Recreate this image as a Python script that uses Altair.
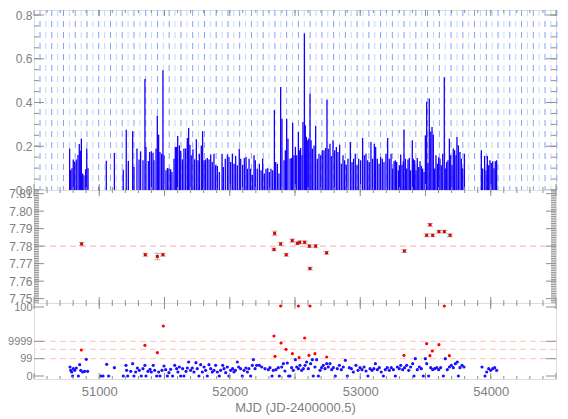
import altair as alt
import pandas as pd

# ---------------- data ----------------
# top panel: power spikes
top_mjd = [50773, 50781, 50791, 50801, 50812, 50824, 50837, 50847, 50855, 50863, 50873, 50883, 50896, 50904, 50914,
           50998, 51054, 51116, 51184, 51207, 51223, 51256, 51266, 51289, 51305, 51317, 51335, 51350, 51358, 51376,
           51386, 51399, 51412, 51419, 51435, 51445, 51455, 51465, 51478, 51488, 51496, 51511, 51522, 51534, 51547,
           51557, 51573, 51583, 51593, 51601, 51614, 51624, 51637, 51649, 51662, 51675, 51685, 51695, 51705, 51718,
           51731, 51744, 51757, 51767, 51782, 51792, 51803, 51815, 51828, 51841, 51854, 51866,
           51879, 51892, 51905, 51920, 51941, 51951, 51966, 51982, 51994, 52007, 52020, 52033, 52045, 52058, 52073,
           52084, 52099, 52112, 52125, 52135, 52148, 52160, 52173, 52186, 52196, 52211, 52227, 52240, 52252, 52265,
           52278, 52291, 52303, 52316, 52329, 52342, 52352, 52365, 52377, 52390, 52400, 52416, 52426, 52436, 52446,
           52462, 52472, 52482, 52492, 52503, 52513, 52526, 52533, 52543, 52554, 52561, 52572, 52579, 52587, 52594,
           52605, 52615, 52623, 52633, 52646, 52658, 52671, 52684, 52697, 52709, 52722, 52735, 52745, 52755, 52768,
           52778, 52791, 52804, 52817, 52829, 52842, 52855, 52868, 52880, 52893, 52906, 52924, 52937, 52949, 52962,
           52975, 52988, 53003, 53018, 53031, 53044, 53057, 53069, 53082, 53095, 53108, 53118, 53131, 53144, 53156,
           53169, 53182, 53197, 53210, 53223,
           53236, 53248, 53259, 53269, 53279, 53292, 53300, 53310, 53320, 53330, 53335, 53346, 53356, 53366, 53376,
           53386, 53399, 53407, 53417, 53427, 53437, 53448, 53458, 53468, 53478, 53489, 53499, 53509, 53519, 53529,
           53540, 53550, 53560, 53570, 53580, 53591, 53601, 53611, 53621, 53632, 53644, 53655, 53662, 53672, 53683,
           53693, 53703, 53713, 53723, 53734, 53741, 53752, 53764, 53775, 53785, 53798,
           53928, 53938, 53953, 53964, 53974, 53984, 53994, 54004, 54015, 54025, 54035, 54045]
top_pow = [0.19, 0.09, 0.10, 0.14, 0.13, 0.14, 0.16, 0.21, 0.18, 0.235, 0.075, 0.067, 0.095, 0.19, 0.10,
           0.01, 0.134, 0.17, 0.093, 0.276, 0.133, 0.269, 0.105, 0.19, 0.14, 0.177, 0.136, 0.507, 0.197, 0.133,
           0.174, 0.177, 0.17, 0.136, 0.19, 0.339, 0.253, 0.174, 0.166, 0.548, 0.159, 0.09, 0.10, 0.098, 0.095,
           0.082, 0.143, 0.197, 0.197, 0.247, 0.204, 0.18, 0.14, 0.19, 0.19, 0.238, 0.284, 0.207, 0.159, 0.186,
           0.14, 0.232, 0.136, 0.166, 0.204, 0.269, 0.136, 0.14, 0.146, 0.14, 0.162, 0.128,
           0.166, 0.113, 0.11, 0.082, 0.165, 0.105, 0.143, 0.162, 0.151, 0.128, 0.166, 0.12, 0.156, 0.113, 0.189,
           0.143, 0.116, 0.146, 0.151, 0.097, 0.143, 0.097, 0.07, 0.159, 0.136, 0.097, 0.12, 0.09, 0.143, 0.075,
           0.097, 0.10, 0.082, 0.097, 0.09, 0.365, 0.128, 0.12, 0.075, 0.471, 0.326, 0.136, 0.182, 0.326, 0.235,
           0.143, 0.146, 0.308, 0.159, 0.197, 0.159, 0.265, 0.182, 0.192, 0.159, 0.311, 0.716, 0.296, 0.243, 0.227,
           0.235, 0.441, 0.227, 0.189, 0.204, 0.293, 0.143, 0.166, 0.159, 0.182, 0.182, 0.192, 0.413, 0.189, 0.212,
           0.156, 0.227, 0.182, 0.197, 0.174, 0.207, 0.12, 0.159, 0.136, 0.116, 0.143, 0.22, 0.128, 0.143, 0.166,
           0.113, 0.143, 0.136, 0.238, 0.159, 0.166, 0.136, 0.128, 0.22, 0.143, 0.212, 0.197, 0.143, 0.12, 0.151,
           0.143, 0.128, 0.166, 0.238, 0.143,
           0.166, 0.098, 0.131, 0.136, 0.128, 0.09, 0.113, 0.162, 0.116, 0.131, 0.277, 0.143, 0.098, 0.14, 0.146,
           0.09, 0.227, 0.143, 0.136, 0.09, 0.146, 0.105, 0.131, 0.11, 0.098, 0.082, 0.25, 0.403, 0.125, 0.418,
           0.268, 0.288, 0.253, 0.098, 0.159, 0.12, 0.15, 0.143, 0.113, 0.166, 0.516, 0.098, 0.128, 0.136, 0.235,
           0.159, 0.113, 0.19, 0.182, 0.159, 0.242, 0.204, 0.174, 0.143, 0.098, 0.166,
           0.182, 0.098, 0.156, 0.09, 0.156, 0.113, 0.136, 0.125, 0.131, 0.10, 0.131, 0.136]

# middle panel: measurements with error bars
mid_mjd = [50865, 51353, 51445, 51488, 52339, 52344, 52390, 52433, 52479, 52518, 52536, 52574,
           52610, 52615, 52658, 52742, 53338, 53509, 53535, 53555, 53603, 53644, 53688]
mid_val = [7.7813, 7.7751, 7.7741, 7.7751, 7.7781, 7.7873, 7.7813, 7.7751, 7.7832, 7.7816, 7.7822, 7.7822,
           7.7800, 7.7672, 7.7800, 7.7762, 7.7772, 7.7862, 7.7922, 7.7862, 7.7883, 7.7883, 7.7862]
mid_err = [0.0008, 0.0008, 0.0019, 0.0008, 0.0008, 0.0013, 0.0009, 0.0008, 0.0009, 0.0008, 0.0008, 0.0008,
           0.0008, 0.0008, 0.0009, 0.0008, 0.0008, 0.0008, 0.0008, 0.0008, 0.0008, 0.0008, 0.0008]
mid_ref = 7.78

# bottom panel (positions on the panel's own broken scale)
blue_mjd = [50776, 50781, 50789, 50796, 50801, 50812, 50824, 50840, 50850, 50858, 50873, 50888, 50901, 50911,
            51011, 51029, 51057, 51072, 51116, 51184, 51205, 51210, 51218, 51241, 51256, 51266, 51279, 51292,
            51307, 51322, 51335, 51350, 51358, 51373, 51389, 51399, 51414, 51425, 51440, 51455, 51465, 51481,
            51496, 51509, 51522, 51534, 51547, 51562, 51578, 51593, 51603, 51614, 51624, 51639, 51649, 51665,
            51675, 51685, 51700, 51713, 51726, 51741, 51751, 51764, 51777, 51790, 51803, 51815, 51828, 51841,
            51854, 51866, 51879, 51892, 51905, 51920, 51930, 51946, 51956, 51969, 51981, 51994, 52007, 52022,
            52032, 52043, 52058, 52068, 52083, 52096, 52109, 52124, 52135, 52147, 52160, 52173,
            52181, 52194, 52206, 52227, 52245, 52270, 52296, 52308, 52324, 52334, 52354, 52372, 52380, 52398,
            52411, 52423, 52441, 52451, 52462, 52474, 52487, 52503, 52513, 52526, 52538, 52551, 52564, 52577,
            52589, 52602, 52620, 52633, 52640, 52653, 52666, 52679, 52692, 52704, 52717, 52730, 52743, 52755,
            52768, 52781, 52794, 52809, 52824, 52840, 52855, 52870, 52886, 52901, 52916, 52932, 52947, 52967,
            52983, 52998, 53013, 53029, 53044, 53059, 53075, 53090, 53105, 53116, 53131, 53146, 53161, 53177,
            53192, 53207, 53223, 53238, 53254, 53269, 53284, 53299, 53310, 53325, 53340, 53356, 53371, 53386,
            53402, 53412, 53422, 53437, 53453, 53468, 53483, 53499, 53509, 53524, 53540, 53555, 53570, 53586,
            53601, 53616, 53637, 53652, 53667, 53683, 53698, 53713, 53729, 53744, 53752, 53764, 53780, 53795,
            53933, 53956, 53969, 53984, 53999, 54015, 54030, 54045]
blue_val = [9, 5.7, 4, 0, 7.3, 5.7, 8, 0, 11.3, 5.7, 4, 4.7, 16.7, 4.7,
            0, 0, 11.7, 0, 8.3, 0, 10.7, 5.7, 0, 4.7, 12.3, 0, 4, 8,
            5.7, 0, 7.3, 10.7, 0, 4.7, 6.7, 4, 10.7, 5.7, 0, 4, 0, 5.7,
            10, 6.3, 0, 3.3, 6.7, 0, 10.7, 7.3, 4, 9, 0, 7.3, 0, 4.7,
            8, 14, 5.7, 8, 4, 13.3, 7.3, 0, 11.3, 4, 9, 5.7, 0, 11.3,
            7.3, 4, 5.7, 10.7, 4, 0, 5.7, 10.7, 7.3, 3.3, 9, 0, 5.7, 7.3,
            4, 5.7, 14, 9, 7.3, 0, 5.7, 8, 4, 7.3, 0, 10.7,
            16.3, 7.3, 10.7, 10.7, 9, 7.3, 6.3, 8.3, 0, 5.7, 6.3, 8.3, 0, 9,
            12.3, 5, 13, 0, 0, 8.3, 5.7, 16.3, 9, 7.3, 10.7, 5.7, 7.3, 10.7,
            14, 7.3, 12.3, 16.3, 0, 9, 16.3, 0, 5.7, 8.3, 10.7, 7.3, 12.3, 9,
            12.3, 6.3, 8.3, 0, 7.3, 10.7, 6.3, 9, 15.7, 0, 8.3, 7.3, 4, 10.7,
            5.7, 8.3, 6.3, 9, 5, 0, 7.3, 5.7, 7.3, 12.3, 6.3, 8.3, 4, 0,
            6.3, 8.3, 5.7, 8.3, 6.3, 0, 9, 7.3, 10.7, 6.3, 8.3, 10.7, 5.7, 9,
            12.3, 0, 17.3, 6.3, 9, 7.3, 0, 17.3, 12.3, 0, 8.3, 6.3, 7.3, 8.3,
            6.3, 8.3, 0, 17.3, 6.3, 9, 10.7, 8.3, 12.3, 14, 0, 8.3, 10.7, 9,
            9, 0, 4, 7.3, 5.7, 7.3, 8.3, 5.7]
red_mjd = [50863, 51350, 51445, 51491, 52339, 52347, 52390, 52393, 52431, 52480, 52526, 52531, 52574,
           52607, 52615, 52653, 52743, 53335, 53509, 53534, 53552, 53603, 53644, 53683]
red_val = [26, 30.7, 23.3, 50, 40, 19.7, 70, 33, 26.7, 22.3, 70, 18.3, 38,
           20.7, 70, 22.3, 19, 20.7, 32.3, 20.3, 25, 31.3, 70, 20.3]
bot_tick_pos = [0, 17.3, 34.7, 69]
bot_tick_lab = ["0", "99", "9999", "100"]
bot_dash_pos = [17.3, 26.7, 34.7]

# axis ticks / labels
x_labels = [51000, 52000, 53000, 54000]
x_minor = list(range(50600, 54500, 100))
x_major = list(range(50500, 54501, 500))
top_major = [0.0, 0.2, 0.4, 0.6, 0.8]
top_minor = [round(0.05 * i, 2) for i in range(17)]
mid_major = [7.75, 7.76, 7.77, 7.78, 7.79, 7.80, 7.81]
mid_minor = [round(7.748 + 0.001 * i, 3) for i in range(65)]
grid_x = [50546 + 45 * k for k in range(89)]
grid_shade = ["d" if k % 2 == 0 else "l" for k in range(89)]

# ---------------- style ----------------
W = 522
H_TOP, H_MID, H_BOT = 180, 113, 76
FRAME = "#8f8f8f"
TEXT = "#808080"
FONT = "Liberation Sans"
xs = alt.Scale(domain=[50500, 54500], nice=False, zero=False)


def yaxis(values, fmt=None, expr=None, size=12):
    kw = dict(values=values, title=None, tickSize=0, domain=False, grid=False, labelPadding=2,
              labelFontSize=size, labelColor=TEXT, labelFont=FONT)
    if fmt:
        kw["format"] = fmt
    if expr:
        kw["labelExpr"] = expr
    return alt.Axis(**kw)


X_AX_BOT = alt.Axis(values=x_labels, format="d", title="MJD (JD-2400000.5)", tickSize=0,
                    domain=False, grid=False, labelPadding=6, labelFontSize=13,
                    labelColor=TEXT, labelFont=FONT, titleFont=FONT, titleFontSize=13,
                    titleFontWeight="normal", titleColor=TEXT, titlePadding=3, labelFlush=False)


def xtick_layers(h, xax):
    mi = pd.DataFrame({"t": x_minor})
    ma = pd.DataFrame({"t": x_major})
    out = []
    for df, ln in ((mi, 3), (ma, 6)):
        base = alt.Chart(df).mark_rule(color=FRAME, strokeWidth=1)
        out.append(base.encode(x=alt.X("t:Q", scale=xs, axis=xax), y=alt.value(0), y2=alt.value(ln)))
        out.append(base.encode(x=alt.X("t:Q", scale=xs, axis=xax), y=alt.value(h), y2=alt.value(h - ln)))
    return out


def ytick_layers(vals, ys, ln, yax):
    df = pd.DataFrame({"v": vals})
    base = alt.Chart(df).mark_rule(color=FRAME, strokeWidth=1)
    return [
        base.encode(y=alt.Y("v:Q", scale=ys, axis=yax), x=alt.value(0), x2=alt.value(ln)),
        base.encode(y=alt.Y("v:Q", scale=ys, axis=yax), x=alt.value(W), x2=alt.value(W - ln)),
    ]


# ---------------- top panel ----------------
ys_top = alt.Scale(domain=[0, 0.8229], nice=False, zero=False)
YA_TOP = yaxis(top_major, fmt=".1f")
grid_df = pd.DataFrame({"gx": grid_x, "shade": grid_shade})
grid = alt.Chart(grid_df).mark_rule(strokeDash=[6, 5], strokeWidth=1).encode(
    x=alt.X("gx:Q", scale=xs, axis=None),
    color=alt.Color("shade:N", scale=alt.Scale(domain=["d", "l"], range=["#7fa3f6", "#c4d5fb"]), legend=None),
)
spk_df = pd.DataFrame({"mjd": top_mjd, "p": top_pow})
spikes = alt.Chart(spk_df).mark_rule(color="#1400ff", strokeWidth=1.3).encode(
    x=alt.X("mjd:Q", scale=xs, axis=None),
    y=alt.Y("p:Q", scale=ys_top, axis=YA_TOP),
    y2=alt.datum(0),
)
top = alt.layer(grid, spikes, *ytick_layers(top_minor, ys_top, 5, YA_TOP), *ytick_layers(top_major, ys_top, 10, YA_TOP),
                *xtick_layers(H_TOP, None)).properties(width=W, height=H_TOP)

# ---------------- middle panel ----------------
ys_mid = alt.Scale(domain=[7.7475, 7.8121], nice=False, zero=False)
YA_MID = yaxis(mid_major, fmt=".2f")
mid_df = pd.DataFrame({"mjd": mid_mjd, "v": mid_val, "e": mid_err})
mid_df["lo"] = mid_df["v"] - mid_df["e"]
mid_df["hi"] = mid_df["v"] + mid_df["e"]
ref = alt.Chart(pd.DataFrame({"r": [mid_ref]})).mark_rule(color="#ffaaaa", strokeDash=[6, 4], strokeWidth=1).encode(
    y=alt.Y("r:Q", scale=ys_mid, axis=YA_MID))
ebar = alt.Chart(mid_df).mark_rule(color="#9a9a9a", strokeWidth=1).encode(
    x=alt.X("mjd:Q", scale=xs, axis=None), y=alt.Y("lo:Q", scale=ys_mid, axis=YA_MID), y2="hi:Q")
cap_lo = alt.Chart(mid_df).mark_tick(color="#9a9a9a", orient="horizontal", size=6, thickness=1).encode(
    x=alt.X("mjd:Q", scale=xs, axis=None), y=alt.Y("lo:Q", scale=ys_mid, axis=YA_MID))
cap_hi = alt.Chart(mid_df).mark_tick(color="#9a9a9a", orient="horizontal", size=6, thickness=1).encode(
    x=alt.X("mjd:Q", scale=xs, axis=None), y=alt.Y("hi:Q", scale=ys_mid, axis=YA_MID))
mpts = alt.Chart(mid_df).mark_square(color="#e00000", size=9, opacity=1).encode(
    x=alt.X("mjd:Q", scale=xs, axis=None), y=alt.Y("v:Q", scale=ys_mid, axis=YA_MID))
mid = alt.layer(ref, ebar, cap_lo, cap_hi, mpts, *ytick_layers(mid_minor, ys_mid, 5, YA_MID),
                *ytick_layers(mid_major, ys_mid, 10, YA_MID), *xtick_layers(H_MID, None)).properties(width=W, height=H_MID)

# ---------------- bottom panel ----------------
ys_bot = alt.Scale(domain=[-3, 73], nice=False, zero=False)
lab_expr = " : ".join(f"datum.value == {p} ? '{l}'" for p, l in zip(bot_tick_pos, bot_tick_lab)) + " : ''"
YA_BOT = yaxis(bot_tick_pos, expr=lab_expr, size=11)
dash = alt.Chart(pd.DataFrame({"d": bot_dash_pos})).mark_rule(color="#ffc0c0", strokeDash=[6, 4], strokeWidth=1).encode(
    y=alt.Y("d:Q", scale=ys_bot, axis=YA_BOT))
bpts = alt.Chart(pd.DataFrame({"mjd": blue_mjd, "v": blue_val})).mark_circle(color="#1a10ff", size=10, opacity=1).encode(
    x=alt.X("mjd:Q", scale=xs, axis=X_AX_BOT),
    y=alt.Y("v:Q", scale=ys_bot, axis=YA_BOT))
rpts = alt.Chart(pd.DataFrame({"mjd": red_mjd, "v": red_val})).mark_circle(color="#ff0000", size=10, opacity=1).encode(
    x=alt.X("mjd:Q", scale=xs, axis=X_AX_BOT), y=alt.Y("v:Q", scale=ys_bot, axis=YA_BOT))
bot = alt.layer(dash, bpts, rpts, *ytick_layers(bot_tick_pos, ys_bot, 10, YA_BOT),
                *xtick_layers(H_BOT, X_AX_BOT)).properties(width=W, height=H_BOT)

chart = alt.vconcat(top, mid, bot, spacing=0, bounds="flush").properties(
    padding={"left": -1, "top": 0, "right": 0, "bottom": 0}
).configure_view(stroke=FRAME, strokeWidth=1).configure(background="white")

chart.save("out.html", embed_options={"renderer": "svg", "actions": False})
